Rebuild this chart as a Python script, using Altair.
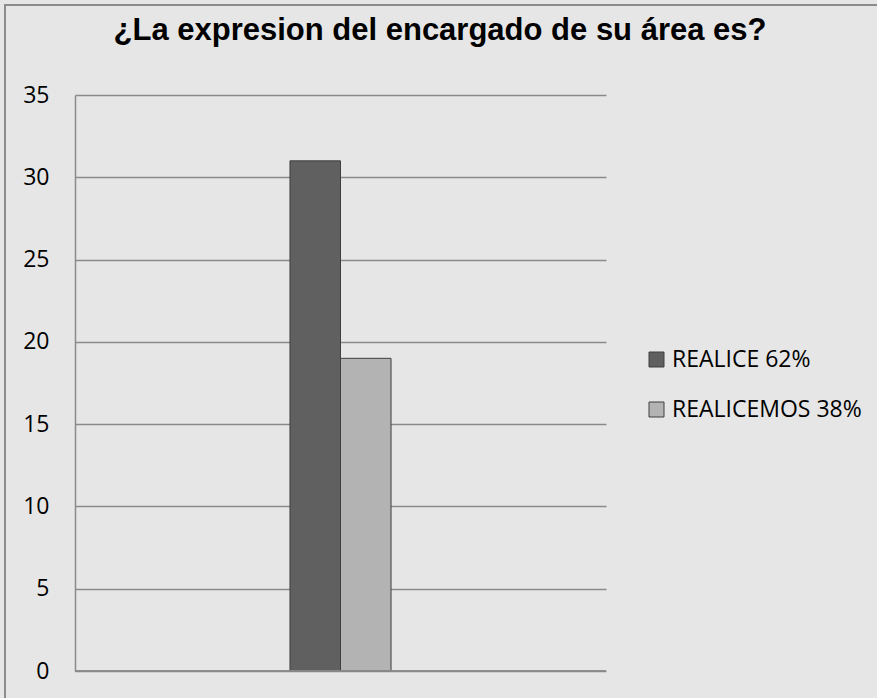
import altair as alt
import pandas as pd

title_text = "¿La expresion del encargado de su área es?"
group = ["grupo", "grupo"]
series = ["REALICE 62%", "REALICEMOS 38%"]
values = [31, 19]
colors = ["#606060", "#b3b3b3"]
y_ticks = [0, 5, 10, 15, 20, 25, 30, 35]

df = pd.DataFrame({"grupo": group, "serie": series, "valor": values})

bars = alt.Chart(df).mark_bar(stroke="#3f3f3f", strokeWidth=1).encode(
    x=alt.X("grupo:N", axis=None,
            scale=alt.Scale(paddingInner=0.53, paddingOuter=1)),
    xOffset=alt.XOffset("serie:N", sort=series,
                        scale=alt.Scale(paddingInner=0, paddingOuter=0)),
    y=alt.Y("valor:Q", title=None,
            scale=alt.Scale(domain=[0, 35], nice=False),
            axis=alt.Axis(values=y_ticks, ticks=False, labelPadding=26,
                          labelFont="Open Sans", labelFontSize=23,
                          labelColor="#000000", domainColor="#8a8a8a",
                          domainWidth=1.5, gridColor="#8a8a8a", gridWidth=1.5)),
    color=alt.Color("serie:N", sort=series,
                    scale=alt.Scale(domain=series, range=colors),
                    legend=alt.Legend(title=None, orient="none", legendX=570, legendY=253,
                                      symbolType="square", symbolSize=225,
                                      symbolStrokeColor="#3f3f3f", symbolStrokeWidth=1,
                                      labelFont="Open Sans", labelFontSize=23,
                                      labelColor="#000000", rowPadding=26,
                                      labelLimit=400,
                                      symbolOpacity=1, labelOffset=4)),
)

base_line = alt.Chart(df).mark_rule(color="#8a8a8a", strokeWidth=1.5).encode(
    y=alt.datum(0)
)

border = alt.Chart(df).mark_rect(fill=None, stroke="#8c8c8c", strokeWidth=2).encode(
    x=alt.value(-70), x2=alt.value(900), y=alt.value(-90), y2=alt.value(700)
)

title = alt.Chart(pd.DataFrame({"t": [title_text]})).mark_text(
    font="Liberation Sans", fontSize=31, fontWeight="bold", color="#000000",
    align="center", baseline="alphabetic"
).encode(text="t:N", x=alt.value(365), y=alt.value(-55))

chart = alt.layer(border, bars, base_line, title).properties(
    width=531, height=576,
    padding={"left": 75, "top": 95, "right": 271, "bottom": 27},
    autosize=alt.AutoSizeParams(type="none"),
    background="#e6e6e6",
).configure_view(stroke=None)

chart.save("out.html", embed_options={"renderer": "svg", "actions": False})
